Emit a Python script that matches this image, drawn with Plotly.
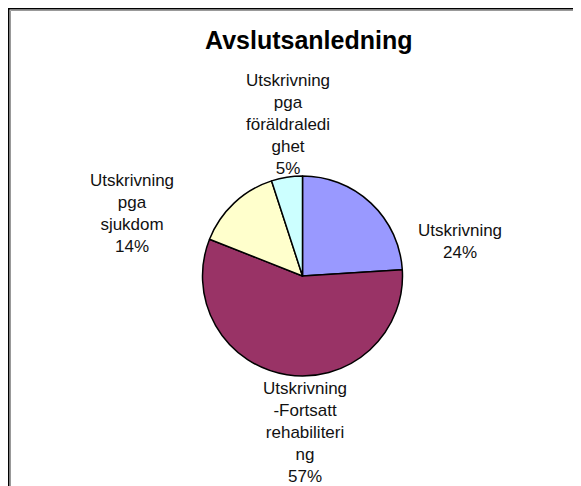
import plotly.graph_objects as go

title = "Avslutsanledning"
categories = [
    "Utskrivning",
    "Utskrivning -Fortsatt rehabilitering",
    "Utskrivning pga sjukdom",
    "Utskrivning pga föräldraledighet",
]
# labels wrapped the way the original chart wraps them
wrapped = [
    "Utskrivning",
    "Utskrivning<br>-Fortsatt<br>rehabiliteri<br>ng",
    "Utskrivning<br>pga<br>sjukdom",
    "Utskrivning<br>pga<br>föräldraledi<br>ghet",
]
values = [24, 57, 14, 5]
colors = ["#9999FF", "#993366", "#FFFFCC", "#CCFFFF"]

W, H = 581, 486
OFF = 8  # page body margin shifts the figure by 8px
# label centres in window pixels (from top-left)
label_pos = [(460, 241), (305, 432), (132, 213), (288, 124)]

def px(x):
    return (x - OFF) / W

def py(y):
    return 1 - (y - OFF) / H

fig = go.Figure()
fig.add_trace(go.Pie(
    labels=categories,
    values=values,
    sort=False,
    direction="clockwise",
    rotation=0,
    textinfo="none",
    hoverinfo="label+percent",
    marker=dict(colors=colors, line=dict(color="black", width=1.5)),
    domain=dict(x=[px(202.5), px(402.5)], y=[py(376), py(176)]),
    showlegend=False,
))

total = sum(values)
annots = [dict(
    text=f"<b>{title}</b>", x=px(308), y=py(40), xref="paper", yref="paper",
    showarrow=False, xanchor="center", yanchor="middle",
    font=dict(family="Liberation Sans, Arial", size=25, color="black"))]
for lab, v, (lx, ly) in zip(wrapped, values, label_pos):
    annots.append(dict(
        text=f"{lab}<br>{round(100 * v / total)}%", x=px(lx), y=py(ly),
        xref="paper", yref="paper", showarrow=False,
        xanchor="center", yanchor="middle", align="center",
        font=dict(family="Liberation Sans, Arial", size=17, color="#111111")))

fig.update_layout(
    width=W, height=H,
    margin=dict(l=0, r=0, t=0, b=0),
    paper_bgcolor="white",
    plot_bgcolor="white",
    annotations=annots,
    shapes=[
        dict(type="rect", xref="paper", yref="paper",
             x0=px(8.5), x1=1.2, y0=-0.2, y1=py(8.5),
             line=dict(color="black", width=2)),
        dict(type="rect", xref="paper", yref="paper",
             x0=px(10.5), x1=1.2, y0=-0.2, y1=py(10.5),
             line=dict(color="#999999", width=1)),
    ],
)
fig.write_html("out.html")
